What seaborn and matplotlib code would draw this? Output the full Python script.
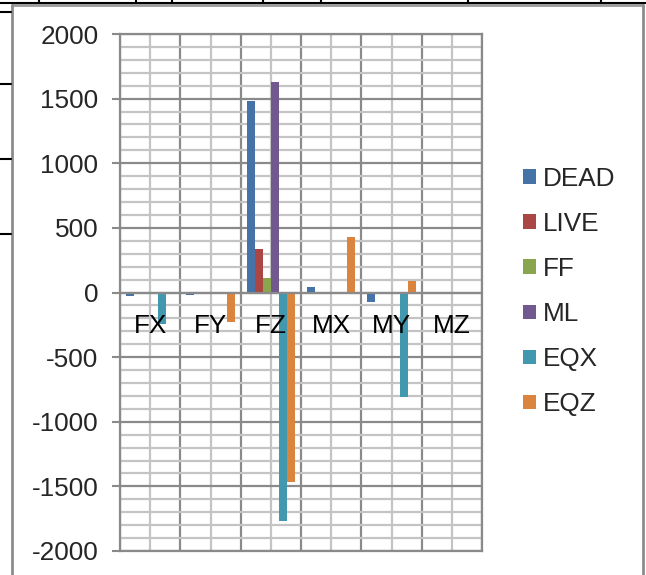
import numpy as np
import pandas as pd
import matplotlib
matplotlib.use("Agg")
import matplotlib.pyplot as plt
import matplotlib.transforms as mtransforms
from matplotlib.lines import Line2D
from matplotlib.patches import Patch
from matplotlib.ticker import MultipleLocator, FixedLocator
import seaborn as sns

categories = ["FX", "FY", "FZ", "MX", "MY", "MZ"]
series = ["DEAD", "LIVE", "FF", "ML", "EQX", "EQZ"]
dead = [-24, -18, 1480, 40, -70, 0]
live = [0, 0, 335, 0, 0, 0]
ff = [0, 0, 112, 0, 0, 0]
ml = [0, 0, 1630, 0, 0, 0]
eqx = [-242, 0, -1770, -5, -811, 0]
eqz = [0, -229, -1466, 430, 90, 0]
yticks = [-2000, -1500, -1000, -500, 0, 500, 1000, 1500, 2000]
colors = ["#4572A7", "#AA4643", "#89A54E", "#71588F", "#4198AF", "#DB843D"]

values = [dead, live, ff, ml, eqx, eqz]
rows = []
for s, vals in zip(series, values):
    for c, v in zip(categories, vals):
        rows.append({"cat": c, "series": s, "val": v})
df = pd.DataFrame(rows)

sns.set_style("white")
plt.rcParams["font.family"] = ["Liberation Sans", "DejaVu Sans"]
FS = 18.8

W, H = 646, 575
fig = plt.figure(figsize=(W / 100, H / 100), dpi=100)
ax = fig.add_axes([120 / W, (H - 551) / H, 362 / W, 517 / H])

sns.barplot(data=df, x="cat", y="val", hue="series", order=categories,
            hue_order=series, palette=colors, width=0.8, saturation=1,
            edgecolor="none", linewidth=0, ax=ax, zorder=3, legend=False)

ax.set_xlim(-0.5, len(categories) - 0.5)
ax.set_ylim(-2000, 2000)
ax.set_xlabel("")
ax.set_ylabel("")

major_c = "#8a8a8a"
minor_c = "#c4c4c4"
ax.yaxis.set_major_locator(FixedLocator(yticks))
ax.yaxis.set_minor_locator(MultipleLocator(100))
ax.set_yticklabels([str(t) for t in yticks], fontsize=FS)
ax.xaxis.set_major_locator(FixedLocator(np.arange(len(categories))))
ax.xaxis.set_minor_locator(FixedLocator(np.arange(len(categories) + 1) - 0.5))
ax.set_xticklabels([])

ax.grid(which="minor", axis="y", color=minor_c, lw=1.6, zorder=0)
ax.grid(which="major", axis="y", color=major_c, lw=1.6, zorder=0)
ax.grid(which="major", axis="x", color=minor_c, lw=1.6, zorder=0)
ax.grid(which="minor", axis="x", color=major_c, lw=1.6, zorder=0)
ax.set_axisbelow(True)

ax.tick_params(axis="y", which="major", length=5.5, width=1.5, color=major_c,
               pad=10, left=True, labelsize=FS)
ax.tick_params(axis="y", which="minor", length=0)
ax.tick_params(axis="x", which="both", length=0)
for sp in ax.spines.values():
    sp.set_visible(True)
    sp.set_color(major_c)
    sp.set_linewidth(1.6)
ax.axhline(0, color=major_c, lw=1.6, zorder=4)

trans = mtransforms.offset_copy(ax.transData, fig=fig, y=-40.5 * 0.72, units="points")
for i, c in enumerate(categories):
    ax.text(i, 0, c, transform=trans, ha="center", va="baseline",
            fontsize=FS, color="black", zorder=6)

handles = [Patch(facecolor=col, edgecolor="none") for col in colors]
fig.legend(handles, series, loc="center left",
           bbox_to_anchor=(523 / W, (H - 291.5) / H), frameon=False,
           fontsize=FS, handlelength=0.48, handleheight=0.48,
           handletextpad=0.3, labelspacing=0.81, borderpad=0,
           borderaxespad=0)

# chart-area border and background table lines
def px_line(x0, y0, x1, y1, color, lw):
    fig.add_artist(Line2D([x0 / W, x1 / W], [1 - y0 / H, 1 - y1 / H],
                          transform=fig.transFigure, color=color, lw=lw))

px_line(12, 5, 643, 5, "#9a9a9a", 2)
px_line(12, 5, 12, 580, "#8c8c8c", 2)
px_line(643, 5, 643, 580, "#8c8c8c", 2)
px_line(0, 3, W, 3, "black", 1.5)
for xv in [39, 136, 172, 263, 321, 468, 601]:
    px_line(xv, 0, xv, 3, "black", 1.5)
for yv in [12, 84, 159, 234]:
    px_line(0, yv, 11, yv, "black", 1.5)

fig.savefig("out.png", dpi=100)
